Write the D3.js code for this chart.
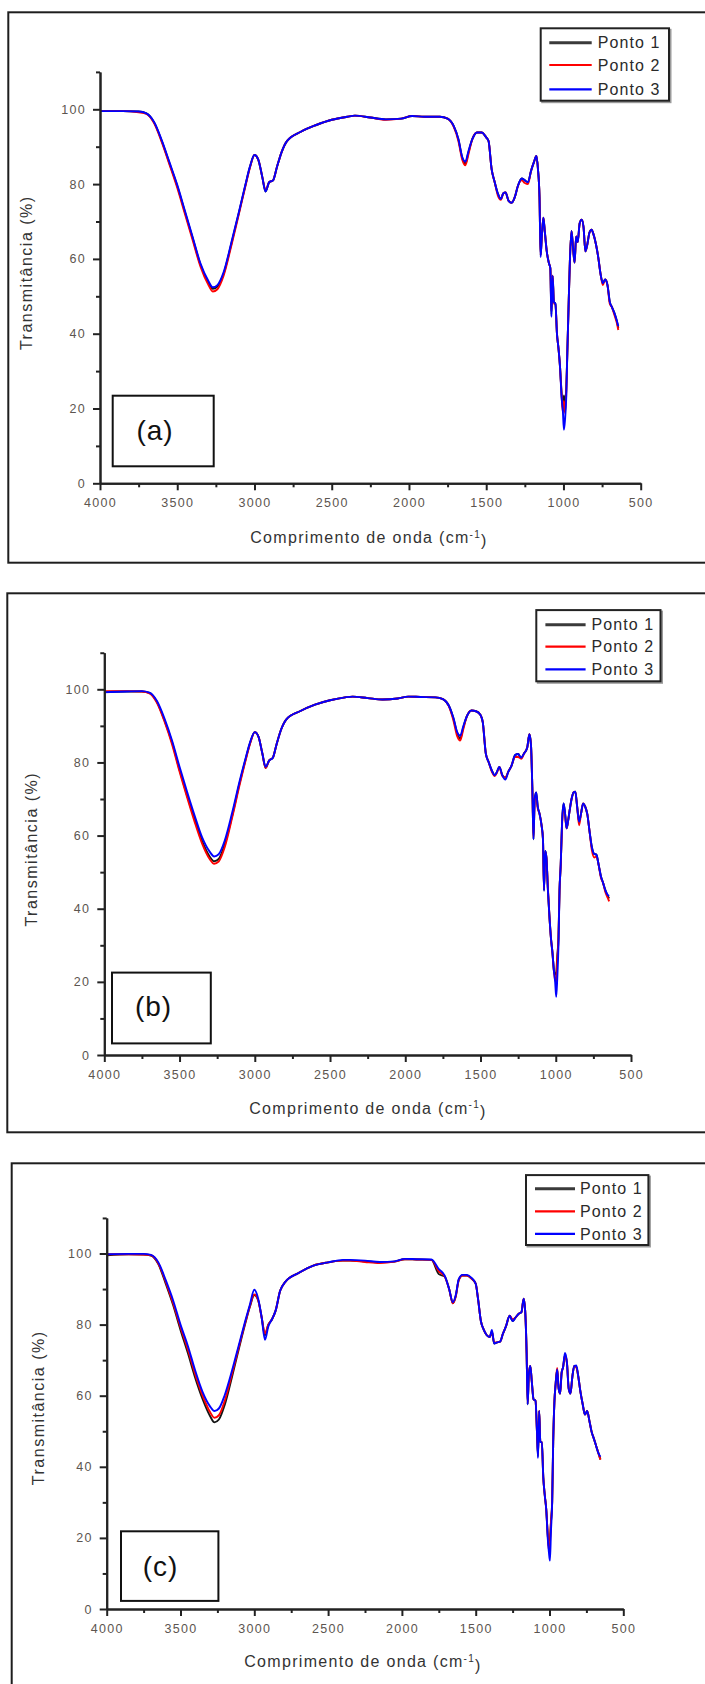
<!DOCTYPE html>
<html>
<head>
<meta charset="utf-8">
<script src="https://cdn.jsdelivr.net/npm/d3@7"></script>
<style>
  html, body { margin: 0; padding: 0; background: #fff; }
  svg { display: block; }
  text { font-family: "Liberation Sans", Arial, sans-serif; }
</style>
</head>
<body>
<svg id="chart" width="705" height="1684"></svg>
<script>
// FTIR spectra: transmittance (%) versus wavenumber (cm-1), three sampling points per panel

const wavenumber = [
  4000, 3850, 3750, 3700, 3650, 3600, 3550, 3500, 3450, 3400,
  3350, 3300, 3270, 3240, 3200, 3150, 3100, 3060, 3030, 3000,
  2975, 2950, 2928, 2905, 2880, 2855, 2825, 2790, 2700, 2600,
  2500, 2400, 2350, 2250, 2150, 2050, 1980, 1900, 1800, 1750,
  1710, 1680, 1655, 1635, 1615, 1590, 1560, 1530, 1500, 1485,
  1465, 1445, 1425, 1405, 1390, 1375, 1355, 1335, 1315, 1295,
  1270, 1250, 1230, 1210, 1190, 1175, 1165, 1155, 1148, 1140,
  1130, 1120, 1108, 1095, 1085, 1078, 1070, 1062, 1052, 1042,
  1032, 1022, 1012, 1004, 997, 990, 982, 975, 967, 958,
  948, 938, 928, 918, 908, 895, 882, 870, 858, 845,
  832, 818, 805, 790, 775, 760, 745, 730, 715, 700,
  685, 670, 655, 645
];

// (a)
const a_ponto1 = [
  99.5, 99.5, 99.4, 98.9, 96.5, 91.5, 85.5, 79.5, 72.5, 65.5,
  58.5, 53.8, 52.0, 52.6, 56.0, 64.0, 72.5, 79.5, 84.5, 87.8,
  86.5, 82.0, 78.0, 80.5, 81.0, 84.5, 88.5, 91.5, 94.0, 95.8,
  97.2, 98.0, 98.3, 97.8, 97.3, 97.5, 98.2, 98.0, 98.0, 97.5,
  95.5, 92.0, 87.0, 85.5, 88.5, 92.0, 93.8, 93.8, 92.5, 91.5,
  84.0, 80.5, 77.5, 76.0, 77.5, 77.8, 75.5, 75.0, 76.5, 79.5,
  81.5, 81.0, 80.5, 83.5, 86.0, 87.5, 84.0, 76.5, 61.0, 66.0,
  71.0, 67.0, 62.0, 59.0, 57.5, 45.0, 55.5, 48.5, 48.0, 40.0,
  36.0, 31.0, 24.0, 20.0, 23.5, 21.0, 25.0, 35.0, 47.0, 60.0,
  67.5, 63.0, 59.0, 66.0, 64.5, 69.5, 70.5, 68.5, 62.0, 64.0,
  67.0, 67.8, 66.5, 64.0, 60.5, 56.0, 53.5, 54.5, 53.0, 48.5,
  47.0, 45.5, 43.5, 41.5
];
const a_ponto2 = [
  99.5, 99.5, 99.2, 98.8, 96.3, 91.2, 85.2, 79.0, 72.0, 65.0,
  58.0, 53.2, 51.3, 51.9, 55.5, 63.5, 72.2, 79.2, 84.3, 87.8,
  86.5, 82.0, 78.3, 80.5, 81.0, 84.5, 88.5, 91.5, 94.0, 95.8,
  97.2, 98.0, 98.3, 97.8, 97.2, 97.5, 98.2, 98.0, 98.0, 97.5,
  95.3, 91.5, 86.5, 85.0, 88.0, 92.0, 93.8, 93.8, 92.5, 91.5,
  84.0, 80.5, 77.0, 75.8, 77.5, 77.8, 75.5, 75.0, 76.5, 79.5,
  81.0, 80.3, 80.0, 83.5, 86.0, 87.5, 84.0, 76.5, 61.0, 66.0,
  71.0, 67.0, 62.0, 59.0, 57.5, 46.0, 55.5, 48.0, 48.0, 40.0,
  36.0, 31.0, 23.5, 19.0, 22.0, 18.8, 24.0, 35.0, 47.0, 60.0,
  67.5, 63.0, 59.0, 66.0, 64.5, 69.5, 70.5, 68.5, 62.0, 64.0,
  67.0, 67.8, 66.5, 64.0, 60.5, 56.0, 53.0, 54.5, 53.0, 48.0,
  47.0, 45.0, 43.0, 41.0
];
const a_ponto3 = [
  99.5, 99.5, 99.4, 98.9, 96.6, 91.7, 85.8, 79.8, 72.8, 65.8,
  58.8, 54.2, 52.4, 53.0, 56.4, 64.3, 72.7, 79.6, 84.6, 87.8,
  86.5, 82.0, 78.0, 80.5, 81.0, 84.5, 88.5, 91.5, 94.0, 95.8,
  97.2, 98.0, 98.3, 97.8, 97.3, 97.5, 98.2, 98.0, 98.0, 97.5,
  95.5, 92.0, 87.2, 86.0, 88.8, 92.0, 93.8, 93.8, 92.5, 91.5,
  84.0, 80.5, 77.5, 76.0, 77.5, 77.8, 75.5, 75.0, 76.5, 79.5,
  81.5, 81.0, 80.5, 83.5, 86.0, 87.5, 84.0, 76.5, 60.5, 66.0,
  71.0, 67.0, 62.0, 59.0, 57.5, 44.5, 55.5, 48.5, 48.0, 40.0,
  36.0, 31.0, 23.0, 19.5, 14.3, 17.0, 23.0, 35.0, 47.0, 60.0,
  67.5, 63.0, 59.0, 66.0, 64.5, 69.5, 70.5, 68.5, 62.0, 64.0,
  67.0, 67.8, 66.5, 64.0, 60.5, 56.0, 53.5, 54.5, 53.0, 48.5,
  47.0, 45.5, 43.5, 42.0
];

// (b)
const b_ponto1 = [
  99.3, 99.4, 99.4, 99.0, 96.5, 91.5, 85.5, 78.0, 71.0, 64.5,
  58.5, 54.3, 53.0, 53.6, 57.5, 65.5, 74.5, 81.0, 85.5, 88.3,
  87.0, 82.5, 78.5, 80.5, 81.3, 85.0, 89.0, 91.8, 94.0, 95.8,
  97.0, 97.8, 98.0, 97.6, 97.2, 97.5, 98.0, 97.9, 97.8, 97.3,
  95.5, 92.0, 88.0, 86.5, 89.5, 92.7, 94.2, 94.0, 93.0, 91.0,
  82.5, 80.0, 77.8, 76.5, 77.5, 78.8, 76.5, 75.8, 77.5, 79.0,
  82.0, 82.3, 81.3, 82.5, 84.0, 87.7, 85.0, 72.0, 59.0, 70.0,
  71.8, 68.0, 66.0, 63.0, 59.0, 45.0, 55.8, 54.0, 45.0, 37.9,
  32.0, 28.0, 23.0, 21.9, 22.5, 27.0, 32.0, 45.0, 52.0, 63.8,
  68.8, 66.0, 62.0, 64.0, 66.8, 70.0, 71.8, 72.0, 68.0, 63.8,
  66.0, 68.8, 68.0, 65.8, 61.0, 56.8, 55.0, 54.8, 52.0, 48.9,
  47.0, 45.0, 43.5, 42.8
];
const b_ponto2 = [
  99.5, 99.5, 99.4, 98.9, 96.3, 91.2, 85.0, 77.5, 70.5, 63.8,
  57.8, 53.6, 52.3, 52.9, 56.8, 65.0, 74.0, 80.7, 85.3, 88.3,
  87.0, 82.5, 78.5, 80.5, 81.3, 85.0, 89.0, 91.8, 94.0, 95.8,
  97.0, 97.8, 98.0, 97.6, 97.2, 97.5, 98.0, 97.9, 97.8, 97.3,
  95.3, 91.5, 87.2, 86.0, 89.0, 92.7, 94.2, 94.0, 93.0, 91.0,
  82.5, 80.0, 77.5, 76.3, 77.3, 78.8, 76.3, 75.8, 77.5, 79.0,
  81.5, 81.5, 81.0, 82.5, 84.0, 87.7, 85.0, 72.0, 59.5, 69.5,
  71.0, 67.5, 66.0, 63.0, 59.0, 45.5, 55.5, 54.0, 45.5, 37.9,
  32.0, 28.0, 23.0, 20.5, 20.0, 26.0, 32.0, 45.0, 52.0, 63.0,
  68.0, 65.5, 62.0, 64.0, 66.8, 70.0, 71.8, 72.0, 68.0, 62.8,
  66.0, 68.8, 68.0, 65.8, 61.0, 56.0, 54.0, 54.3, 52.0, 48.5,
  47.0, 44.5, 43.0, 42.0
];
const b_ponto3 = [
  99.2, 99.4, 99.5, 99.1, 96.8, 92.0, 86.0, 78.8, 72.0, 65.5,
  59.5, 55.6, 54.3, 54.9, 58.6, 66.3, 75.0, 81.3, 85.7, 88.3,
  87.0, 82.5, 78.8, 80.5, 81.3, 85.0, 89.0, 91.8, 94.0, 95.8,
  97.0, 97.8, 98.0, 97.6, 97.2, 97.5, 98.0, 97.9, 97.8, 97.3,
  95.5, 92.2, 88.3, 87.3, 89.8, 92.7, 94.2, 94.0, 93.0, 91.0,
  82.5, 80.0, 77.8, 76.5, 77.5, 78.8, 76.5, 75.3, 77.5, 79.0,
  82.0, 82.3, 81.3, 82.5, 84.0, 87.7, 85.0, 72.0, 59.0, 70.0,
  71.8, 68.0, 66.0, 63.0, 59.0, 44.9, 55.8, 54.0, 45.0, 37.9,
  32.0, 28.0, 23.0, 20.0, 15.9, 21.0, 30.0, 45.0, 52.0, 63.8,
  68.8, 66.0, 62.0, 64.0, 66.8, 70.0, 71.8, 72.0, 68.0, 63.8,
  66.0, 68.8, 68.0, 65.8, 61.0, 56.8, 55.0, 54.8, 52.0, 48.9,
  47.0, 45.0, 43.8, 43.5
];

// (c)
const c_ponto1 = [
  99.5, 99.8, 99.7, 99.4, 97.0, 91.5, 85.5, 78.5, 72.0, 65.0,
  59.0, 54.3, 52.5, 53.3, 57.5, 65.5, 74.0, 80.5, 85.0, 88.3,
  87.0, 82.0, 77.0, 80.0, 81.5, 84.0, 89.5, 92.0, 94.5, 96.6,
  97.5, 98.0, 98.0, 97.8, 97.5, 97.7, 98.4, 98.3, 98.2, 94.2,
  93.5, 90.0, 86.0, 88.0, 92.5, 93.8, 93.8, 93.0, 91.5, 87.5,
  81.0, 78.5, 77.0, 76.5, 78.0, 74.7, 75.0, 75.2, 77.5, 79.5,
  82.5, 81.0, 82.0, 83.0, 83.5, 87.3, 84.0, 72.0, 57.6, 66.0,
  68.4, 64.0, 59.0, 58.6, 50.0, 43.0, 55.7, 47.0, 46.9, 37.0,
  32.0, 28.0, 21.0, 17.4, 19.5, 24.5, 30.0, 46.9, 58.0, 63.5,
  67.4, 62.0, 60.6, 66.4, 68.0, 71.3, 69.3, 62.0, 60.6, 65.4,
  68.4, 68.0, 65.4, 61.0, 57.6, 54.7, 55.7, 53.0, 49.9, 48.0,
  46.0, 44.0, 42.1, null
];
const c_ponto2 = [
  99.8, 99.8, 99.7, 99.5, 97.2, 92.0, 86.0, 79.3, 73.0, 66.0,
  60.0, 55.4, 53.8, 54.5, 58.6, 66.3, 74.5, 80.8, 85.2, 88.5,
  87.0, 82.0, 77.5, 80.0, 81.5, 84.0, 89.5, 92.0, 94.5, 96.6,
  97.5, 98.0, 98.0, 97.6, 97.3, 97.7, 98.4, 98.3, 98.2, 95.0,
  93.5, 90.0, 86.0, 88.0, 92.5, 93.8, 93.8, 93.0, 91.5, 87.5,
  81.0, 78.5, 77.0, 76.5, 78.0, 75.0, 75.0, 75.2, 77.5, 79.5,
  82.5, 81.5, 82.0, 83.0, 83.5, 87.3, 84.0, 72.0, 58.0, 66.0,
  68.4, 64.0, 59.0, 58.6, 50.0, 43.5, 55.7, 47.0, 46.9, 37.0,
  32.0, 28.0, 21.0, 16.4, 18.5, 24.5, 30.0, 46.9, 58.0, 63.5,
  67.8, 62.0, 60.6, 66.4, 68.0, 71.3, 69.3, 62.0, 60.6, 65.4,
  68.4, 68.0, 65.4, 61.0, 57.6, 54.7, 55.7, 53.0, 49.9, 48.0,
  46.0, 44.0, 42.0, null
];
const c_ponto3 = [
  99.8, 99.9, 99.9, 99.6, 97.5, 92.5, 86.8, 80.0, 74.0, 67.0,
  61.0, 57.0, 55.7, 56.4, 60.2, 67.2, 75.0, 81.2, 85.6, 89.8,
  87.5, 82.0, 75.7, 79.5, 81.5, 84.0, 89.5, 92.0, 94.5, 96.6,
  97.5, 98.2, 98.2, 98.0, 97.6, 97.8, 98.5, 98.4, 98.3, 95.6,
  93.8, 90.0, 86.3, 88.3, 92.8, 94.0, 94.0, 93.2, 91.5, 87.5,
  81.0, 78.5, 77.0, 76.5, 78.5, 74.7, 75.0, 75.2, 77.5, 79.5,
  82.5, 81.0, 82.0, 83.0, 83.5, 87.3, 84.0, 72.0, 57.6, 66.0,
  68.4, 64.0, 59.0, 58.6, 50.0, 42.5, 55.7, 47.0, 46.9, 37.0,
  32.0, 28.0, 20.0, 16.0, 13.6, 22.0, 30.0, 46.9, 58.0, 63.5,
  67.4, 62.0, 60.6, 66.4, 68.0, 72.0, 69.3, 62.0, 60.6, 65.4,
  68.4, 68.5, 65.4, 61.0, 57.6, 54.7, 55.7, 53.0, 49.9, 48.0,
  46.0, 44.0, 42.8, null
];

const seriesNames = ["Ponto 1", "Ponto 2", "Ponto 3"];
const seriesColors = ["#141414", "#ff0000", "#0000ff"];
const panelLabels = ["(a)", "(b)", "(c)"];
const panelSeries = [
  [a_ponto1, a_ponto2, a_ponto3],
  [b_ponto1, b_ponto2, b_ponto3],
  [c_ponto1, c_ponto2, c_ponto3]
];
const xMajorTicks = [4000, 3500, 3000, 2500, 2000, 1500, 1000, 500];
const xMinorTicks = [3750, 3250, 2750, 2250, 1750, 1250, 750];
const yMajorTicks = [0, 20, 40, 60, 80, 100];
const yMinorTicks = [10, 30, 50, 70, 90, 110];
const xTitle = "Comprimento de onda (cm";
const yTitle = "Transmitância (%)";

// page geometry of each panel
const layouts = [
  { frame: [8.3, 12.3, 720, 562.7], xr: [100, 640.7], y0: 483.3, y100: 109.3,
    legend: { x: 540.7, y: 28.3, w: 128.3, h: 72.4, rows: [42.7, 65, 89.3], l0: 549.3, l1: 591.7, tx: 597.7 },
    box: [112.7, 395.7, 101, 70.6], labelAt: [155, 430], xTitleAt: [369, 537.5], yTitleAt: [26, 272.7] },
  { frame: [7.3, 593.3, 720, 1132.3], xr: [104.3, 631], y0: 1055, y100: 689.3,
    legend: { x: 536.3, y: 610.1, w: 124.2, h: 71.2, rows: [624.7, 646.6, 669.3], l0: 545.4, l1: 585.6, tx: 591.4 },
    box: [112, 972.6, 98.8, 70.8], labelAt: [153.5, 1006], xTitleAt: [368, 1108.3], yTitleAt: [31.6, 849.2] },
  { frame: [11.7, 1163.3, 720, 1700], xr: [106.7, 623.3], y0: 1609, y100: 1253.5,
    legend: { x: 526, y: 1175.1, w: 122.4, h: 69.9, rows: [1188.7, 1211.3, 1233.9], l0: 535, l1: 575, tx: 580 },
    box: [121, 1531.3, 97.4, 69.6], labelAt: [160.5, 1566], xTitleAt: [363, 1661.7], yTitleAt: [38, 1407.8] }
];

const svg = d3.select("#chart");
svg.append("rect").attr("width", 705).attr("height", 1684).attr("fill", "#fff");

layouts.forEach((L, p) => {
  const g = svg.append("g");

  // outer frame
  g.append("rect")
    .attr("x", L.frame[0]).attr("y", L.frame[1])
    .attr("width", L.frame[2] - L.frame[0]).attr("height", L.frame[3] - L.frame[1])
    .attr("fill", "none").attr("stroke", "#1e1e1e").attr("stroke-width", 2);

  const x = d3.scaleLinear().domain([4000, 500]).range(L.xr);
  const y110 = L.y0 - 1.1 * (L.y0 - L.y100);
  const y = d3.scaleLinear().domain([0, 110]).range([L.y0, y110]);

  // spectra
  const line = d3.line()
    .defined(d => d[1] != null)
    .curve(d3.curveMonotoneX)
    .x(d => x(d[0]))
    .y(d => y(d[1]));
  panelSeries[p].forEach((vals, i) => {
    g.append("path")
      .datum(wavenumber.map((w, k) => [w, vals[k]]))
      .attr("d", line)
      .attr("fill", "none")
      .attr("stroke", seriesColors[i])
      .attr("stroke-width", 1.9)
      .attr("stroke-linejoin", "round");
  });

  // axes
  const axisStyle = sel => {
    sel.select(".domain").attr("stroke", "#222").attr("stroke-width", 2);
    sel.selectAll(".tick line").attr("stroke", "#222").attr("stroke-width", 2);
    sel.selectAll(".tick text")
      .attr("fill", "#5c5550")
      .style("font-size", "12.5px")
      .style("letter-spacing", "1.3px");
  };

  g.append("g").attr("transform", `translate(0,${L.y0})`)
    .call(d3.axisBottom(x).tickValues(xMinorTicks).tickSize(4).tickSizeOuter(0).tickFormat(""))
    .call(axisStyle);
  g.append("g").attr("transform", `translate(0,${L.y0})`)
    .call(d3.axisBottom(x).tickValues(xMajorTicks).tickSize(7).tickSizeOuter(0).tickPadding(8).tickFormat(d3.format("d")))
    .call(axisStyle);
  g.append("g").attr("transform", `translate(${L.xr[0]},0)`)
    .call(d3.axisLeft(y).tickValues(yMinorTicks).tickSize(4).tickSizeOuter(0).tickFormat(""))
    .call(axisStyle);
  g.append("g").attr("transform", `translate(${L.xr[0]},0)`)
    .call(d3.axisLeft(y).tickValues(yMajorTicks).tickSize(7).tickSizeOuter(0).tickPadding(7).tickFormat(d3.format("d")))
    .call(axisStyle);

  // axis titles
  const xt = g.append("text")
    .attr("x", L.xTitleAt[0]).attr("y", L.xTitleAt[1]).attr("dy", "0.35em")
    .attr("text-anchor", "middle").attr("fill", "#333")
    .style("font-size", "16px").style("letter-spacing", "1.3px");
  xt.append("tspan").text(xTitle);
  xt.append("tspan").attr("dy", "-0.55em").style("font-size", "10px").text("-1");
  xt.append("tspan").attr("dy", "0.55em").text(")");

  g.append("text")
    .attr("transform", `translate(${L.yTitleAt[0]},${L.yTitleAt[1]}) rotate(-90)`)
    .attr("dy", "0.35em").attr("text-anchor", "middle").attr("fill", "#333")
    .style("font-size", "16px").style("letter-spacing", "1.5px")
    .text(yTitle);

  // panel label
  g.append("rect")
    .attr("x", L.box[0]).attr("y", L.box[1]).attr("width", L.box[2]).attr("height", L.box[3])
    .attr("fill", "#fff").attr("stroke", "#111").attr("stroke-width", 2);
  g.append("text")
    .attr("x", L.labelAt[0]).attr("y", L.labelAt[1]).attr("dy", "0.35em")
    .attr("text-anchor", "middle").attr("fill", "#111")
    .style("font-size", "28px").style("letter-spacing", "1px")
    .text(panelLabels[p]);

  // legend
  const lg = L.legend;
  g.append("rect")
    .attr("x", lg.x + 1.5).attr("y", lg.y + 1.5).attr("width", lg.w).attr("height", lg.h)
    .attr("fill", "none").attr("stroke", "#9a9a9a").attr("stroke-width", 2);
  g.append("rect")
    .attr("x", lg.x).attr("y", lg.y).attr("width", lg.w).attr("height", lg.h)
    .attr("fill", "#fff").attr("stroke", "#222").attr("stroke-width", 2);
  seriesNames.forEach((name, i) => {
    g.append("line")
      .attr("x1", lg.l0).attr("x2", lg.l1).attr("y1", lg.rows[i]).attr("y2", lg.rows[i])
      .attr("stroke", i === 0 ? "#3a3a3a" : seriesColors[i])
      .attr("stroke-width", i === 0 ? 3 : 2.2);
    g.append("text")
      .attr("x", lg.tx).attr("y", lg.rows[i]).attr("dy", "0.35em")
      .attr("fill", "#2a2a2a")
      .style("font-size", "16px").style("letter-spacing", "1.1px")
      .text(name);
  });
});
</script>
</body>
</html>
